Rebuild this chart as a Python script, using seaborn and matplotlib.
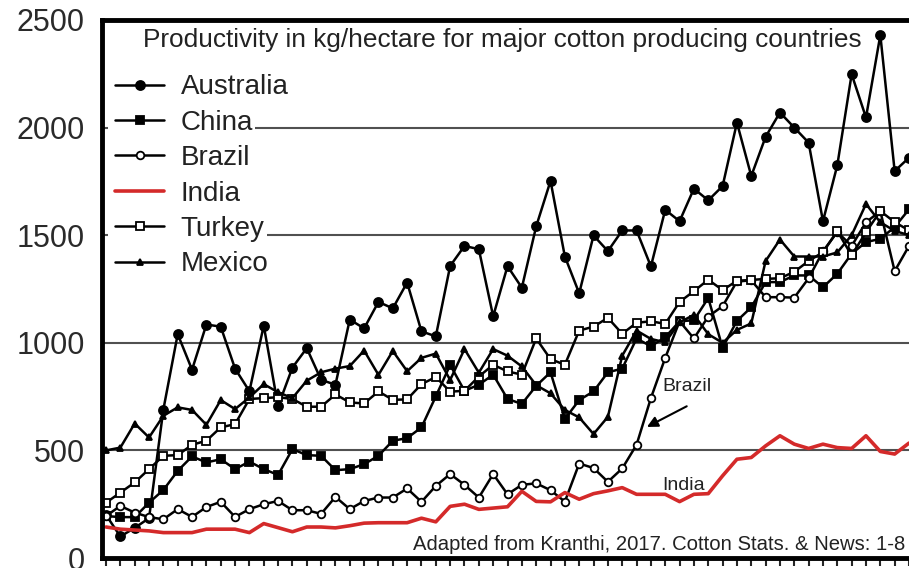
import matplotlib
matplotlib.use("Agg")
import matplotlib.pyplot as plt
import pandas as pd
import seaborn as sns
from matplotlib.patches import Rectangle

years = list(range(1960, 2017))

australia = [200, 100, 140, 185, 690, 1040, 875, 1085, 1075, 880,
             775, 1080, 705, 885, 975, 828, 805, 1108, 1067, 1190,
             1160, 1280, 1053, 1030, 1357, 1450, 1435, 1123, 1356, 1256,
             1541, 1752, 1401, 1230, 1499, 1426, 1522, 1522, 1355, 1618,
             1565, 1716, 1662, 1728, 2023, 1775, 1957, 2070, 2000, 1930,
             1565, 1825, 2248, 2047, 2430, 1798, 1860]
china = [195, 190, 190, 257, 316, 405, 472, 444, 459, 413,
         448, 413, 386, 506, 478, 475, 408, 413, 436, 475,
         545, 557, 607, 751, 897, 777, 805, 852, 739, 716,
         800, 863, 646, 734, 774, 863, 880, 1020, 984, 1026,
         1100, 1105, 1208, 977, 1102, 1165, 1282, 1282, 1313, 1313,
         1258, 1321, 1414, 1468, 1483, 1538, 1620]
brazil = [195, 242, 211, 190, 180, 227, 191, 237, 261, 191,
          227, 250, 265, 222, 222, 205, 284, 227, 265, 281,
          281, 323, 261, 335, 390, 340, 281, 390, 296, 340,
          347, 315, 262, 439, 418, 354, 416, 526, 743, 930,
          1100, 1020, 1122, 1170, 1285, 1290, 1212, 1212, 1210, 1300,
          1425, 1515, 1450, 1560, 1612, 1333, 1450]
india = [144, 134, 130, 126, 118, 118, 118, 134, 134, 134,
         118, 160, 141, 122, 144, 144, 140, 150, 162, 164,
         164, 164, 185, 168, 240, 250, 226, 232, 238, 310,
         263, 261, 304, 273, 299, 312, 327, 296, 296, 296,
         262, 296, 299, 382, 459, 467, 521, 568, 529, 509,
         529, 513, 509, 568, 495, 483, 534]
turkey = [257, 304, 351, 413, 475, 478, 526, 545, 607, 622,
          739, 743, 747, 739, 703, 703, 760, 723, 718, 774,
          735, 737, 808, 841, 773, 777, 843, 898, 867, 852,
          1020, 924, 898, 1057, 1075, 1116, 1042, 1093, 1100, 1088,
          1190, 1240, 1293, 1245, 1288, 1292, 1297, 1300, 1330, 1380,
          1421, 1519, 1406, 1514, 1612, 1561, 1522]
mexico = [500, 513, 625, 560, 661, 700, 688, 619, 734, 692,
          746, 808, 770, 743, 824, 863, 880, 892, 964, 851,
          962, 868, 930, 950, 827, 971, 861, 971, 940, 890,
          803, 765, 688, 653, 576, 656, 940, 1057, 1018, 1002,
          1095, 1130, 1040, 1000, 1060, 1090, 1380, 1480, 1401, 1401,
          1401, 1420, 1500, 1645, 1560, 1520, 1500]

ytick_values = [0, 500, 1000, 1500, 2000, 2500]

title_text = "Productivity in kg/hectare for major cotton producing countries"
source_text = "Adapted from Kranthi, 2017. Cotton Stats. & News: 1-8"

df = pd.DataFrame({
    "year": years,
    "Australia": australia,
    "China": china,
    "Brazil": brazil,
    "India": india,
    "Turkey": turkey,
    "Mexico": mexico,
})

sns.set_style("white")
plt.rcParams["font.family"] = ["Liberation Sans", "DejaVu Sans"]

fig = plt.figure(figsize=(9.09, 5.68), dpi=100)
ax = fig.add_axes([0.1117, 0.0176, 0.8883, 0.9472])

styles = {
    "Australia": dict(color="black", marker="o", markersize=6.5,
                      markerfacecolor="black", markeredgecolor="black"),
    "China": dict(color="black", marker="s", markersize=5.5,
                  markerfacecolor="black", markeredgecolor="black"),
    "Brazil": dict(color="black", marker="o", markersize=5.5,
                   markerfacecolor="white", markeredgecolor="black"),
    "India": dict(color="#d42a2a", marker=None, linewidth=2.6),
    "Turkey": dict(color="black", marker="s", markersize=5.5,
                   markerfacecolor="white", markeredgecolor="black"),
    "Mexico": dict(color="black", marker="^", markersize=5,
                   markerfacecolor="black", markeredgecolor="black"),
}

for name in ["Australia", "China", "Brazil", "India", "Turkey", "Mexico"]:
    kw = dict(linewidth=1.8, markeredgewidth=1.3)
    kw.update(styles[name])
    sns.lineplot(data=df, x="year", y=name, ax=ax, label=name, **kw)

ax.set_xlim(1960 - 4.5 / 14.4, 1960 + (909 - 106) / 14.4)
ax.set_ylim(0, 2500)
ax.set_yticks(ytick_values)
ax.set_xticks(years)
ax.set_xticklabels([])
ax.set_xlabel("")
ax.set_ylabel("")

ax.grid(axis="y", color="#505050", linewidth=1.5)
ax.grid(axis="x", visible=False)
ax.set_axisbelow(True)

for side in ["left", "top", "bottom"]:
    ax.spines[side].set_linewidth(3.5)
    ax.spines[side].set_color("black")
ax.spines["right"].set_visible(False)

ax.tick_params(axis="y", direction="in", length=7, width=1.5,
               labelsize=22, pad=12, labelcolor="#2a2a2a")
ax.tick_params(axis="x", direction="out", length=6, width=1.5,
               bottom=True, labelbottom=False)

leg = ax.legend(loc="upper left", bbox_to_anchor=(0.0, 0.925),
                fontsize=20, handlelength=1.75, handletextpad=0.6,
                labelspacing=0.34, borderpad=0.2, borderaxespad=0.3,
                frameon=False)
for t in leg.get_texts():
    t.set_color("#222222")
    t.set_bbox(dict(facecolor="white", edgecolor="none", pad=1.5))

# white patch behind the legend handles so the grid stops at the labels
ax.add_patch(Rectangle((0.008, 0.52), 0.095, 0.37, transform=ax.transAxes,
                       facecolor="white", edgecolor="none", zorder=1))

fig.text(502 / 909, 1 - 40 / 568, title_text, ha="center", va="center",
         fontsize=18.9, color="#222222")
fig.text(905 / 909, 1 - 545 / 568, source_text, ha="right", va="center",
         fontsize=14.6, color="#222222")

# annotations for Brazil and India
ax.annotate("", xy=(1997.55, 603), xytext=(2000.67, 711),
            arrowprops=dict(arrowstyle="-|>", color="black", lw=1.5,
                            mutation_scale=16))
ax.text(1998.8, 795, "Brazil", fontsize=14, va="center", ha="left",
        color="#222222")
ax.text(1998.8, 339, "India", fontsize=14, va="center", ha="left",
        color="#222222")

fig.savefig("out.png", dpi=100)
